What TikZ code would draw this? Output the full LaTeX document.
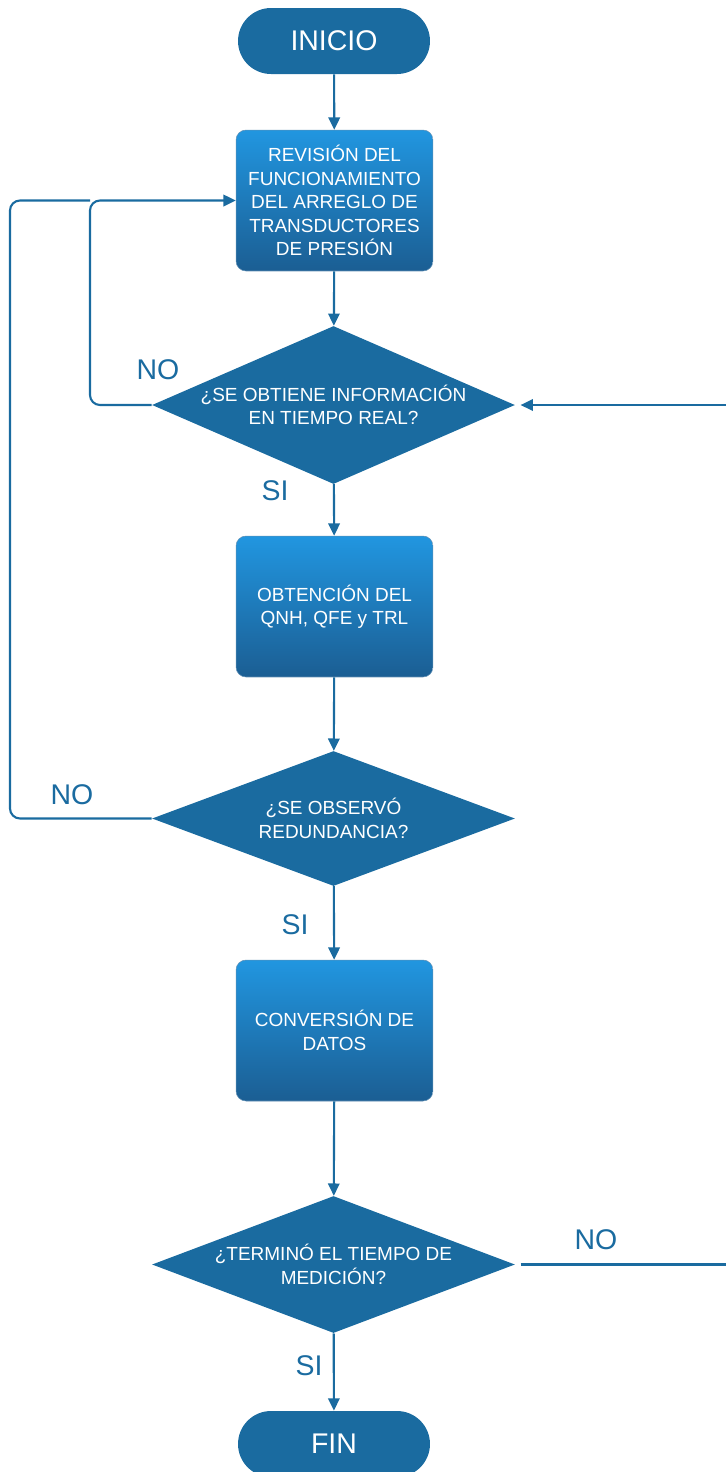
\documentclass[tikz,border=0pt]{standalone}
\usepackage{fontspec}
\setmainfont{Liberation Sans}
\usetikzlibrary{shapes.geometric,arrows.meta,calc}
\definecolor{flowblue}{HTML}{1A6BA0}
\definecolor{boxtop}{HTML}{2196E0}
\definecolor{boxbottom}{HTML}{1B5E93}
\begin{document}
\begin{tikzpicture}[x=0.02cm,y=-0.02cm,
  terminal/.style={fill=flowblue, rounded corners=0.66cm, minimum width=3.84cm,
    minimum height=1.32cm, inner sep=0pt, text=white,
    font=\fontsize{16.2}{19}\selectfont},
  process/.style={rounded corners=0.2cm, top color=boxtop, bottom color=boxbottom,
    draw=boxbottom!70!white, line width=0.3pt,
    minimum width=3.94cm, minimum height=2.82cm, inner sep=0pt, text=white,
    align=center, font=\fontsize{10.8}{13.3}\selectfont},
  decision/.style={diamond, fill=flowblue, inner sep=0pt, minimum width=7.26cm},
  qtext/.style={text=white, align=center, font=\fontsize{10.8}{13.3}\selectfont},
  flowline/.style={draw=flowblue, line width=1.2pt},
  arrowline/.style={flowline, -{Triangle[length=7pt,width=6.5pt]}},
  tag/.style={text=flowblue, font=\fontsize{16.2}{19}\selectfont}]
\useasboundingbox (0,0) rectangle (725,1472);

% terminals
\node[terminal] (start) at (334,41) {INICIO};
\node[terminal] (stop) at (334,1444) {FIN};

% process boxes
\node[process] (rev) at (334.5,200.5) {REVISIÓN DEL\\FUNCIONAMIENTO\\DEL ARREGLO DE\\TRANSDUCTORES\\DE PRESIÓN};
\node[process] (qnh) at (334.5,606.5) {OBTENCIÓN DEL\\QNH, QFE y TRL};
\node[process] (conv) at (334.5,1030.5) {CONVERSIÓN DE\\DATOS};

% decisions
\node[decision, minimum height=3.16cm] (d1) at (333.5,405) {};
\node[qtext] (d1t) at (333.5,405) {¿SE OBTIENE INFORMACIÓN\\EN TIEMPO REAL?};
\node[decision, minimum height=2.70cm] (d2) at (333.5,818.5) {};
\node[qtext] (d2t) at (333.5,818.5) {¿SE OBSERVÓ\\REDUNDANCIA?};
\node[decision, minimum height=2.74cm] (d3) at (333.5,1264.5) {};
\node[qtext] (d3t) at (333.5,1264.5) {¿TERMINÓ EL TIEMPO DE\\MEDICIÓN?};

% loop guide coordinates
\coordinate (innerx) at (90,0);
\coordinate (outerx) at (10,0);
\coordinate (rightx) at (727,0);

% main flow
\draw[arrowline] (start) -- (rev);
\draw[arrowline] (rev) -- (d1);
\draw[arrowline] (d1) -- (qnh);
\draw[arrowline] (qnh) -- (d2);
\draw[arrowline] (d2) -- (conv);
\draw[arrowline] (conv) -- (d3);
\draw[arrowline] (d3) -- (stop);

% NO branches back to the check box
\draw[arrowline, rounded corners=0.2cm] (d1.west) -| (innerx |- rev.west) -- (rev.west);
\draw[flowline, rounded corners=0.2cm] (d2.west) -| (outerx |- rev.west) -- (innerx |- rev.west);
\draw[arrowline, shorten <=3pt, shorten >=3pt] (d3.east) -- (rightx |- d3.east) -- (rightx |- d1.east) -- (d1.east);

% branch labels
\node[tag] (no1) at (158,370) {NO};
\node[tag] (si1) at (275,491) {SI};
\node[tag] (no2) at (72,795) {NO};
\node[tag] (si2) at (295,925) {SI};
\node[tag] (no3) at (596,1240) {NO};
\node[tag] (si3) at (309,1366) {SI};
\end{tikzpicture}
\end{document}
